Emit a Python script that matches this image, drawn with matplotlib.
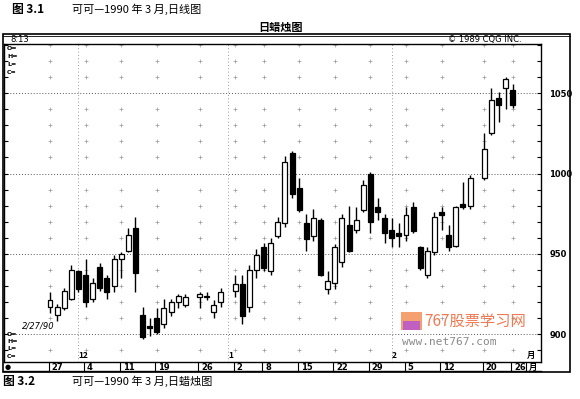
import matplotlib
matplotlib.use('Agg')
import matplotlib.pyplot as plt
from matplotlib.patches import Rectangle
import numpy as np

CJK = ['Noto Sans CJK SC', 'DejaVu Sans']

# ---------------- data (trading-day index counted from 1989-11-27) ----------------
day_idx = [0, 1, 2, 3, 4, 5, 6, 7, 8, 9, 10, 11, 12, 13, 14, 15, 16, 17, 18, 19,
           21, 22, 23, 24,
           26, 27, 28, 29, 30, 31, 32, 33, 34, 35, 36, 37, 38, 39, 40, 41, 42, 43,
           44, 45, 46, 47, 48, 49, 50, 51, 52, 53, 54, 55, 56, 57, 58, 59,
           61, 62, 63, 64, 65]
opens = [917, 912, 916, 922, 939, 937, 922, 942, 935, 930, 947, 952, 966, 912, 905, 910, 906, 914, 920, 918,
         923, 924, 914, 920,
         927, 931, 917, 940, 954, 939, 961, 969, 1013, 991, 969, 961, 971, 928, 932, 945, 968, 965,
         977, 1000, 979, 972, 965, 963, 962, 979, 954, 937, 951, 976, 962, 955, 981, 980,
         997, 1025, 1047, 1053, 1052]
highs = [926, 919, 929, 943, 940, 947, 935, 944, 937, 949, 951, 966, 973, 917, 910, 916, 922, 922, 925, 925,
         926, 926, 921, 929,
         937, 937, 943, 953, 957, 960, 973, 1011, 1014, 997, 975, 978, 972, 939, 956, 975, 980, 979,
         996, 1001, 985, 975, 972, 969, 979, 982, 955, 954, 976, 979, 968, 980, 995, 999,
         1025, 1053, 1051, 1060, 1056]
lows = [913, 908, 915, 921, 926, 917, 920, 927, 922, 926, 935, 951, 926, 897, 899, 900, 904, 911, 916, 917,
        916, 921, 910, 917,
        923, 906, 914, 935, 939, 937, 960, 967, 985, 976, 952, 958, 936, 925, 928, 942, 951, 963,
        976, 963, 971, 957, 954, 954, 958, 963, 940, 935, 949, 965, 952, 954, 978, 978,
        996, 1024, 1032, 1040, 1041]
closes = [921, 917, 927, 940, 928, 920, 932, 929, 926, 947, 950, 962, 938, 898, 904, 901, 916, 920, 924, 923,
          925, 923, 918, 926,
          931, 911, 940, 949, 941, 957, 970, 1007, 987, 977, 959, 972, 937, 933, 954, 972, 952, 971,
          993, 970, 976, 963, 960, 961, 974, 964, 941, 952, 973, 974, 954, 979, 979, 997,
          1015, 1046, 1043, 1059, 1043]

week_idx = [0, 5, 10, 15, 21, 26, 30, 35, 40, 45, 50, 55, 61, 65]
week_labels = ['27', '4', '11', '19', '26', '2', '8', '15', '22', '29', '5', '12', '20', '26']
month_idx = [4, 25, 48, 67]
month_labels = ['12', '1', '2', '月']
price_ticks = [900, 950, 1000, 1050]
price_labels = ['900', '950', '1000', '1050']

# ---------------- figure ----------------
W, H = 580, 399
fig = plt.figure(figsize=(W / 100, H / 100), dpi=100)
fig.patch.set_facecolor('white')

# plot area in pixel coordinates
L, R, T, B = 4, 541, 44, 362
ax = fig.add_axes([L / W, 1 - B / H, (R - L) / W, (B - T) / H])
ax.set_xlim(-6.46, 68.96)
ax.set_ylim(882.6, 1080.7)
ax.set_facecolor('white')

# grid
for p in price_ticks:
    ax.axhline(p, color='#555555', lw=0.7, ls=(0, (1, 2)), zorder=1)
for m in month_idx[:3]:
    ax.axvline(m, color='#777777', lw=0.6, ls=(0, (1, 3)), zorder=1)
dot_prices = [p for p in range(890, 1081, 10) if p % 50 != 0]
for w in week_idx:
    ax.scatter([w] * len(dot_prices), dot_prices, marker='+', s=5, lw=0.5,
               color='#999999', zorder=1)

# candles
o = np.array(opens, float); c = np.array(closes, float)
hi = np.array(highs, float); lo = np.array(lows, float)
x = np.array(day_idx, float)
up = c >= o
ax.vlines(x, lo, hi, color='black', lw=1.0, zorder=2)
bottom = np.minimum(o, c)
height = np.maximum(np.abs(c - o), 0.8)
ax.bar(x[up], height[up], bottom=bottom[up], width=0.7, facecolor='white',
       edgecolor='black', linewidth=0.9, zorder=3)
ax.bar(x[~up], height[~up], bottom=bottom[~up], width=0.7, facecolor='black',
       edgecolor='black', linewidth=0.9, zorder=3)

# axes styling
ax.set_xticks([])
ax.set_yticks(price_ticks)
ax.set_yticklabels(price_labels)
ax.set_yticks(list(range(890, 1081, 10)), minor=True)
ax.tick_params(axis='y', which='both', direction='in', left=True, right=True,
               labelleft=False, labelright=True, length=3, width=0.8, pad=6,
               labelsize=6)
for lab in ax.get_yticklabels():
    lab.set_fontweight('bold')
for s in ax.spines.values():
    s.set_linewidth(1.0)

# month markers & week labels
xt = ax.get_xaxis_transform()
for m, lab in zip(month_idx, month_labels):
    ax.text(m, 0.02, lab, transform=xt, fontsize=6, ha='left', va='center',
            family=CJK, fontweight='bold')
for w, lab in zip(week_idx, week_labels):
    ax.plot([w - 0.2, w - 0.2], [-0.002, -0.028], transform=xt, color='black',
            lw=0.8, clip_on=False)
    ax.text(w + 0.2, -0.016, lab, transform=xt, fontsize=6, ha='left',
            va='center', fontweight='bold')
ax.plot([month_idx[3] - 0.2] * 2, [-0.002, -0.028], transform=xt, color='black',
        lw=0.8, clip_on=False)
ax.text(month_idx[3] + 0.2, -0.016, month_labels[3], transform=xt, fontsize=6,
        ha='left', va='center', family=CJK, fontweight='bold')

# ---------------- overlay for frame and texts ----------------
ov = fig.add_axes([0, 0, 1, 1], facecolor='none')
ov.set_xlim(0, W)
ov.set_ylim(H, 0)
ov.axis('off')
ov.add_patch(Rectangle((3, 34), 567, 338, fill=False, lw=1.2, color='black'))
ov.plot([3, 570], [35.5, 35.5], color='black', lw=0.6)
ov.plot([3, 541], [371, 371], color='black', lw=1.0)

ov.text(12, 9, '图 3.1', fontsize=8.5, family=CJK, fontweight='bold', va='center')
ov.text(72, 9, '可可—1990 年 3 月,日线图', fontsize=8, family=CJK, va='center')
ov.text(280, 27, '日蜡烛图', fontsize=8, family=CJK, fontweight='bold',
        ha='center', va='center')
ov.text(10, 39.5, '8:13', fontsize=6, va='center')
ov.text(448, 39.5, '© 1989 CQG INC.', fontsize=6, va='center')

for k, lab in enumerate(['O=', 'H=', 'L=', 'C=']):
    ov.text(7, 48 + 8 * k, lab, fontsize=4.5, va='center', fontweight='bold')
    ov.text(7, 334 + 7.5 * k, lab, fontsize=4.5, va='center', fontweight='bold')
ov.text(22, 326, '2/27/90', fontsize=6, va='center', style='italic')
ov.text(5, 367, '●', fontsize=5, va='center')

ov.text(3, 381, '图 3.2', fontsize=8.5, family=CJK, fontweight='bold', va='center')
ov.text(72, 381, '可可—1990 年 3 月,日蜡烛图', fontsize=8, family=CJK, va='center')

# watermark
ov.add_patch(Rectangle((401, 312), 21, 18, color='#f4a070', lw=0))
ov.add_patch(Rectangle((403, 321), 17, 9, color='#c060c0', lw=0))
ov.text(424, 321, '767股票学习网', fontsize=11, family=CJK, color='#ef7a52',
        va='center')
ov.text(402, 342, 'www.net767.com', fontsize=8, family='DejaVu Sans Mono',
        color='#8a8a8a', va='center')

fig.savefig('out.png', dpi=100)
